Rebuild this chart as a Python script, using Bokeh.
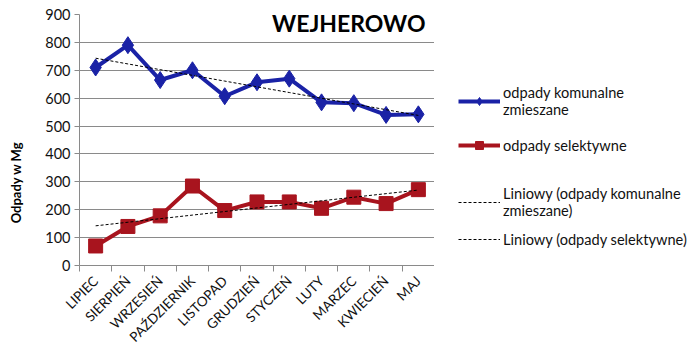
import numpy as np
from bokeh.plotting import figure
from bokeh.layouts import row
from bokeh.models import (Range1d, FixedTicker, SingleIntervalTicker, Legend, LegendItem, Label)
from bokeh.embed import file_html
from bokeh.resources import INLINE

months = ["LIPIEC", "SIERPIEŃ", "WRZESIEŃ", "PAŹDZIERNIK", "LISTOPAD", "GRUDZIEŃ",
          "STYCZEŃ", "LUTY", "MARZEC", "KWIECIEŃ", "MAJ"]
komunalne = [710, 790, 665, 700, 607, 657, 670, 585, 582, 540, 542]
selektywne = [70, 140, 178, 285, 197, 228, 228, 205, 245, 222, 272]
title_text = "WEJHEROWO"
y_label = "Odpady w Mg"
names = ["odpady komunalne\nzmieszane", "odpady selektywne",
         "Liniowy (odpady komunalne\nzmieszane)", "Liniowy (odpady selektywne)"]

BLUE = "#1a22a6"
RED = "#a8141e"
FONT = "Lato"
H = 353
FRAME_BOTTOM = 268   # frames of the row are aligned with the main chart's frame

n = len(months)
x = np.arange(n) + 0.5
idx = np.arange(n)
trend_k = np.polyval(np.polyfit(idx, komunalne, 1), idx)
trend_s = np.polyval(np.polyfit(idx, selektywne, 1), idx)


def bare(width):
    f = figure(width=width, height=H, x_range=Range1d(0, 1), y_range=Range1d(0, 1),
               output_backend="svg", toolbar_location=None, min_border=0)
    f.axis.visible = False
    f.grid.visible = False
    f.outline_line_color = None
    return f


# ---- y-axis title panel
yl = bare(30)
yl.add_layout(Label(x=15, y=FRAME_BOTTOM - 185, x_units="screen", y_units="screen",
                    text=y_label, angle=np.pi / 2, text_font=FONT, text_font_style="bold",
                    text_font_size="13px", text_align="center", text_baseline="middle",
                    text_color="black"))

# ---- main chart
p = figure(width=404, height=H, x_range=Range1d(0, n), y_range=Range1d(0, 900),
           output_backend="svg", toolbar_location=None,
           min_border_left=49, min_border_right=0, min_border_top=14, min_border_bottom=85)
p.outline_line_color = None
p.xgrid.visible = False
p.ygrid.grid_line_color = "#8a8a8a"
p.ygrid.grid_line_width = 1

p.yaxis.ticker = SingleIntervalTicker(interval=100)
p.yaxis.axis_line_color = "#8a8a8a"
p.yaxis.major_tick_line_color = "#8a8a8a"
p.yaxis.major_tick_out = 5
p.yaxis.major_tick_in = 0
p.yaxis.minor_tick_line_color = None
p.yaxis.major_label_text_font = FONT
p.yaxis.major_label_text_font_size = "14.5px"
p.yaxis.major_label_text_color = "#111111"
p.yaxis.major_label_standoff = 4

p.xaxis.ticker = FixedTicker(ticks=list(x), minor_ticks=list(range(n + 1)))
p.xaxis.major_label_overrides = {float(xx): m for xx, m in zip(x, months)}
p.xaxis.major_tick_line_color = None
p.xaxis.minor_tick_line_color = "#8a8a8a"
p.xaxis.minor_tick_out = 6
p.xaxis.minor_tick_in = 0
p.xaxis.axis_line_color = "#8a8a8a"
p.xaxis.major_label_orientation = np.pi / 4
p.xaxis.major_label_text_font = FONT
p.xaxis.major_label_text_font_size = "13.5px"
p.xaxis.major_label_text_color = "#111111"
p.xaxis.major_label_standoff = 7

p.line(x, komunalne, line_color=BLUE, line_width=4)
p.scatter(x, komunalne, marker="diamond", size=17, fill_color=BLUE, line_color=BLUE)
p.line(x, selektywne, line_color=RED, line_width=4)
p.scatter(x, selektywne, marker="square", size=14, fill_color=RED, line_color=RED)
p.line(x, trend_k, line_color="black", line_width=1, line_dash="3 2")
p.line(x, trend_s, line_color="black", line_width=1, line_dash="3 2")

p.add_layout(Label(x=346, y=871, x_units="screen", y_units="data", text=title_text,
                   text_font=FONT, text_font_style="bold", text_font_size="23px",
                   text_align="right", text_baseline="middle", text_color="black"))

# ---- legend panel (swatch renderers carry no visible data)
lg = bare(256)
nan2 = [np.nan, np.nan]
sk_l = lg.line(nan2, nan2, line_color=BLUE, line_width=4)
sk_m = lg.scatter(nan2, nan2, marker="diamond", size=10, fill_color=BLUE, line_color=BLUE)
ss_l = lg.line(nan2, nan2, line_color=RED, line_width=4)
ss_m = lg.scatter(nan2, nan2, marker="square", size=10, fill_color=RED, line_color=RED)
tk_l = lg.line(nan2, nan2, line_color="black", line_width=1, line_dash="3 2")
ts_l = lg.line(nan2, nan2, line_color="black", line_width=1, line_dash="3 2")

common = dict(border_line_color=None, background_fill_alpha=0, padding=0, margin=0,
              label_text_font=FONT, label_text_font_size="14.6px", label_text_color="#111111",
              label_text_line_height=1.7, glyph_width=42, glyph_height=20,
              label_standoff=3)
leg1 = Legend(items=[LegendItem(label=names[0], renderers=[sk_l, sk_m]),
                     LegendItem(label=names[1], renderers=[ss_l, ss_m])],
              location=(24, 110), spacing=17, **common)
leg2 = Legend(items=[LegendItem(label=names[2], renderers=[tk_l]),
                     LegendItem(label=names[3], renderers=[ts_l])],
              location=(24, 16), spacing=10, **common)
lg.add_layout(leg1)
lg.add_layout(leg2)

open("out.html", "w").write(file_html(row(yl, p, lg), INLINE))
